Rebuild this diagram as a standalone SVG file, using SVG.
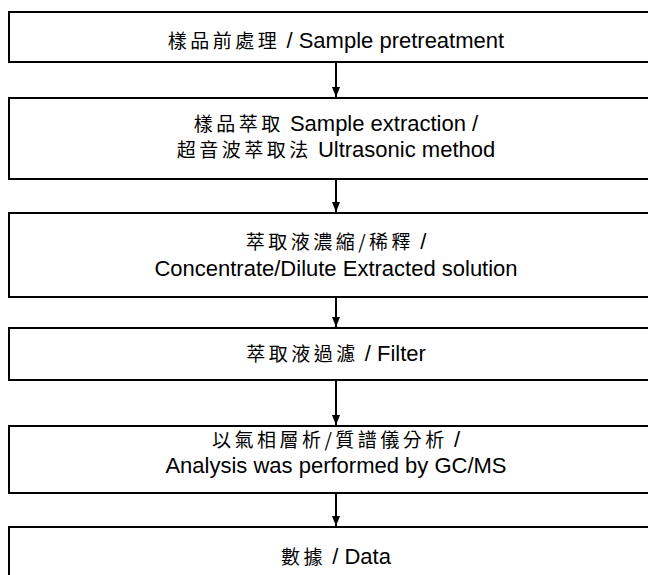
<svg xmlns="http://www.w3.org/2000/svg" width="648" height="575" viewBox="0 0 648 575">
<defs>
<style>
.box{fill:#fff;stroke:#000;stroke-width:2}
.t{font-family:"Liberation Sans","Noto Sans CJK TC",sans-serif;font-size:22px;fill:#000;text-anchor:middle}
.zh{font-family:"Noto Sans CJK TC","Noto Sans CJK SC",sans-serif;font-size:19px;letter-spacing:3.5px}
.conn{stroke:#000;stroke-width:2;fill:none}
</style>
<marker id="ah" viewBox="0 0 10 8" refX="10" refY="4" markerWidth="10" markerHeight="8" markerUnits="userSpaceOnUse" orient="auto">
<path d="M0,0 L10,4 L0,8 Z" fill="#000"/>
</marker>
</defs>
<rect width="648" height="575" fill="#fff"/>
<g id="n1">
<rect class="box" x="9" y="12" width="662" height="50"/>
<text class="t" x="336" y="48"><tspan class="zh">樣品前處理</tspan> / Sample pretreatment</text>
</g>
<g id="n2">
<rect class="box" x="9" y="98" width="662" height="81"/>
<text class="t" x="336" y="131"><tspan class="zh">樣品萃取</tspan> Sample extraction /</text>
<text class="t" x="336" y="157"><tspan class="zh">超音波萃取法</tspan> Ultrasonic method</text>
</g>
<g id="n3">
<rect class="box" x="9" y="213" width="662" height="84"/>
<text class="t" x="336" y="249"><tspan class="zh">萃取液濃縮/稀釋</tspan> /</text>
<text class="t" x="336" y="276">Concentrate/Dilute Extracted solution</text>
</g>
<g id="n4">
<rect class="box" x="9" y="328" width="662" height="52"/>
<text class="t" x="336" y="361"><tspan class="zh">萃取液過濾</tspan> / Filter</text>
</g>
<g id="n5">
<rect class="box" x="9" y="426" width="662" height="67"/>
<text class="t" x="336" y="447"><tspan class="zh">以氣相層析/質譜儀分析</tspan> /</text>
<text class="t" x="336" y="473">Analysis was performed by GC/MS</text>
</g>
<g id="n6">
<rect class="box" x="9" y="527" width="662" height="70"/>
<text class="t" x="336" y="564"><tspan class="zh">數據</tspan> / Data</text>
</g>
<g id="connectors">
<line class="conn" x1="336" y1="63" x2="336" y2="97" marker-end="url(#ah)"/>
<line class="conn" x1="336" y1="180" x2="336" y2="212" marker-end="url(#ah)"/>
<line class="conn" x1="336" y1="298" x2="336" y2="327" marker-end="url(#ah)"/>
<line class="conn" x1="336" y1="381" x2="336" y2="425" marker-end="url(#ah)"/>
<line class="conn" x1="336" y1="494" x2="336" y2="526" marker-end="url(#ah)"/>
</g>
</svg>
